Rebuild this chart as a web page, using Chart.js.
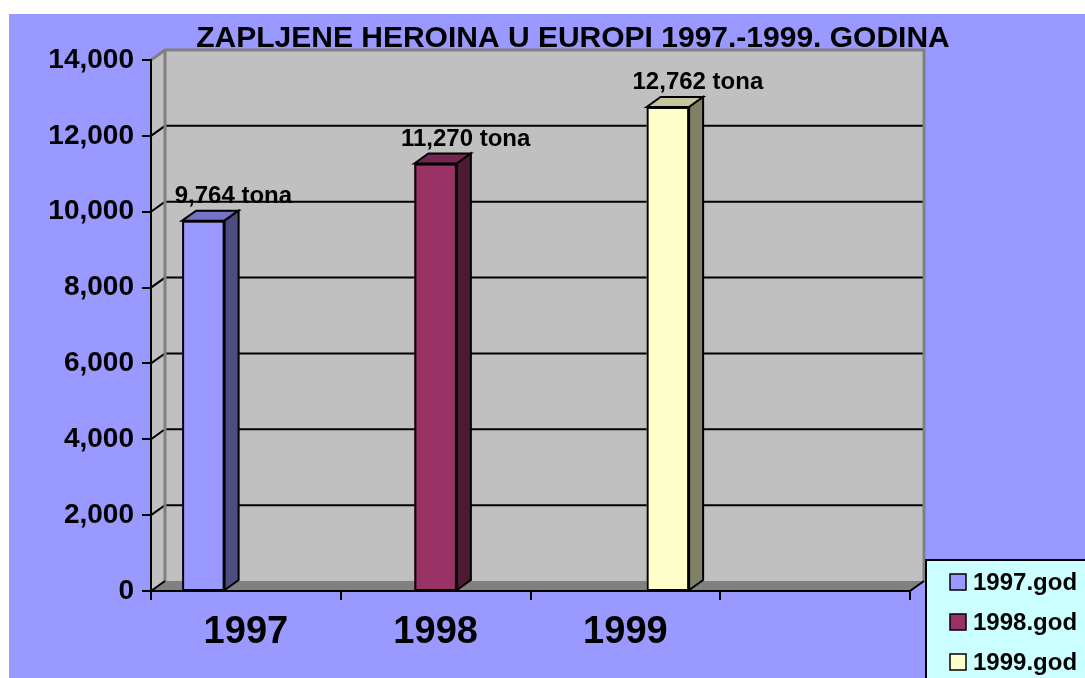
<!DOCTYPE html>
<html>
<head>
<meta charset="utf-8">
<script src="https://cdn.jsdelivr.net/npm/chart.js@4/dist/chart.umd.min.js"></script>
<style>
html,body{margin:0;padding:0;background:#fff;}
canvas{display:block;}
</style>
</head>
<body>
<canvas id="c" width="1085" height="678"></canvas>
<script>
const categories = ['1997', '1998', '1999', ''];
const seriesNames = ['1997.god', '1998.god', '1999.god'];
const values1997 = [9764, null, null, null];
const values1998 = [null, 11270, null, null];
const values1999 = [null, null, 12762, null];
const yTicks = [0, 2000, 4000, 6000, 8000, 10000, 12000, 14000];
const titleText = 'ZAPLJENE HEROINA U EUROPI 1997.-1999. GODINA';
const unitText = ' tona';

const FONT = '"Liberation Sans", Arial, sans-serif';
const DX = 14, DY = -10;
const fronts = ['#9999FF', '#993366', '#FFFFCC'];
const tops = ['#7373C6', '#732650', '#C6C69E'];
const sides = ['#4D4D80', '#4D1A33', '#808066'];

function fmt(v){ return v.toLocaleString('en-US'); }

const deco = {
  id: 'deco',
  beforeDraw(chart){
    const ctx = chart.ctx;
    const xs = chart.scales.x, ys = chart.scales.y;
    const L = xs.left, R = xs.right;
    const y0 = ys.getPixelForValue(0), yT = ys.getPixelForValue(yTicks[yTicks.length-1]);
    ctx.save();
    ctx.fillStyle = '#fff';
    ctx.fillRect(0,0,chart.width,chart.height);
    ctx.fillStyle = '#9999FF';
    ctx.fillRect(9,14,chart.width-9,chart.height-14);
    ctx.fillStyle = '#C0C0C0';
    ctx.fillRect(L+DX, yT+DY, R-L, y0-yT);
    ctx.beginPath();
    ctx.moveTo(L+1,y0); ctx.lineTo(L+1,yT); ctx.lineTo(L+DX,yT+DY); ctx.lineTo(L+DX,y0+DY); ctx.closePath();
    ctx.fill();
    ctx.strokeStyle = '#000'; ctx.lineWidth = 2;
    yTicks.forEach(t=>{
      if (t === 0 || t === yTicks[yTicks.length-1]) return;
      const py = ys.getPixelForValue(t);
      ctx.beginPath();
      ctx.moveTo(L,py); ctx.lineTo(L+DX,py+DY); ctx.lineTo(R+DX,py+DY);
      ctx.stroke();
    });
    ctx.fillStyle = '#808080';
    ctx.beginPath();
    ctx.moveTo(L,y0); ctx.lineTo(L+DX,y0+DY); ctx.lineTo(R+DX,y0+DY); ctx.lineTo(R,y0); ctx.closePath();
    ctx.fill();
    ctx.strokeStyle = '#808080'; ctx.lineWidth = 3;
    ctx.beginPath();
    ctx.moveTo(L,yT); ctx.lineTo(L+DX,yT+DY); ctx.lineTo(R+DX,yT+DY); ctx.lineTo(R+DX,y0+DY);
    ctx.moveTo(L+DX,yT+DY); ctx.lineTo(L+DX,y0+DY);
    ctx.stroke();
    ctx.strokeStyle = '#000'; ctx.lineWidth = 2;
    ctx.beginPath();
    ctx.moveTo(L,y0); ctx.lineTo(L+DX,y0+DY);
    ctx.moveTo(R,y0); ctx.lineTo(R+DX,y0+DY);
    ctx.stroke();
    ctx.restore();
  },
  afterDatasetsDraw(chart){
    const ctx = chart.ctx;
    ctx.save();
    ctx.lineWidth = 2; ctx.strokeStyle = '#000'; ctx.lineJoin = 'miter';
    chart.data.datasets.forEach((ds, di)=>{
      const meta = chart.getDatasetMeta(di);
      meta.data.forEach((el, i)=>{
        if (ds.data[i] == null) return;
        const p = el.getProps(['x','y','base','width'], true);
        const l = p.x - p.width/2, r = p.x + p.width/2;
        ctx.fillStyle = tops[di];
        ctx.beginPath();
        ctx.moveTo(l,p.y); ctx.lineTo(l+DX,p.y+DY); ctx.lineTo(r+DX,p.y+DY); ctx.lineTo(r,p.y); ctx.closePath();
        ctx.fill(); ctx.stroke();
        ctx.fillStyle = sides[di];
        ctx.beginPath();
        ctx.moveTo(r,p.y); ctx.lineTo(r+DX,p.y+DY); ctx.lineTo(r+DX,p.base+DY); ctx.lineTo(r,p.base); ctx.closePath();
        ctx.fill(); ctx.stroke();
        ctx.strokeRect(l+1,p.y+1,p.width-2,p.base-p.y-1);
        ctx.fillStyle = '#000';
        ctx.font = 'bold 24px ' + FONT;
        ctx.textAlign = 'center'; ctx.textBaseline = 'alphabetic';
        ctx.fillText(fmt(ds.data[i]) + unitText, p.x + 30, p.y + DY - 8);
      });
    });
    ctx.restore();
  },
  afterDraw(chart){
    const ctx = chart.ctx;
    ctx.save();
    ctx.fillStyle = '#000';
    ctx.font = 'bold 30px ' + FONT;
    ctx.textAlign = 'center'; ctx.textBaseline = 'alphabetic';
    ctx.fillText(titleText, 573, 47);
    ctx.fillStyle = '#CCFFFF';
    ctx.fillRect(926,560,200,200);
    ctx.strokeStyle = '#000'; ctx.lineWidth = 2;
    ctx.strokeRect(926,560,200,200);
    chart.data.datasets.forEach((ds, di)=>{
      const cy = 582 + di*40;
      ctx.fillStyle = ds.backgroundColor;
      ctx.fillRect(950, cy-8, 16, 16);
      ctx.strokeStyle = '#000'; ctx.lineWidth = 1.5;
      ctx.strokeRect(950, cy-8, 16, 16);
      ctx.fillStyle = '#000';
      ctx.font = 'bold 24px ' + FONT;
      ctx.textAlign = 'left';
      ctx.fillText(ds.label, 973, cy+8);
    });
    ctx.restore();
  }
};

new Chart(document.getElementById('c'), {
  type: 'bar',
  data: {
    labels: categories,
    datasets: [
      { label: seriesNames[0], data: values1997, backgroundColor: fronts[0] },
      { label: seriesNames[1], data: values1998, backgroundColor: fronts[1] },
      { label: seriesNames[2], data: values1999, backgroundColor: fronts[2] }
    ]
  },
  options: {
    responsive: false,
    animation: false,
    devicePixelRatio: 1,
    layout: { padding: { left: 0, right: 175, top: 60, bottom: 0 } },
    datasets: { bar: { barPercentage: 1.0, categoryPercentage: 0.672, borderWidth: 0 } },
    plugins: { legend: { display: false }, title: { display: false }, tooltip: { enabled: false } },
    scales: {
      x: {
        grid: { offset: true, drawOnChartArea: false, tickLength: 9, color: '#000', lineWidth: 2 },
        border: { color: '#000', width: 2 },
        ticks: { color: '#000', font: { family: FONT, size: 38, weight: 'bold' }, padding: 10, maxRotation: 0 },
        afterFit(s){ s.height = 87; }
      },
      y: {
        min: 0, max: 14000,
        afterBuildTicks(s){ s.ticks = yTicks.map(v=>({value:v})); },
        grid: { drawOnChartArea: false, tickLength: 9, color: '#000', lineWidth: 2 },
        border: { color: '#000', width: 2 },
        ticks: { color: '#000', font: { family: FONT, size: 28, weight: 'bold' }, padding: 8, callback: v => fmt(v) },
        afterFit(s){ s.width = 151; }
      }
    }
  },
  plugins: [deco]
});
</script>
</body>
</html>
